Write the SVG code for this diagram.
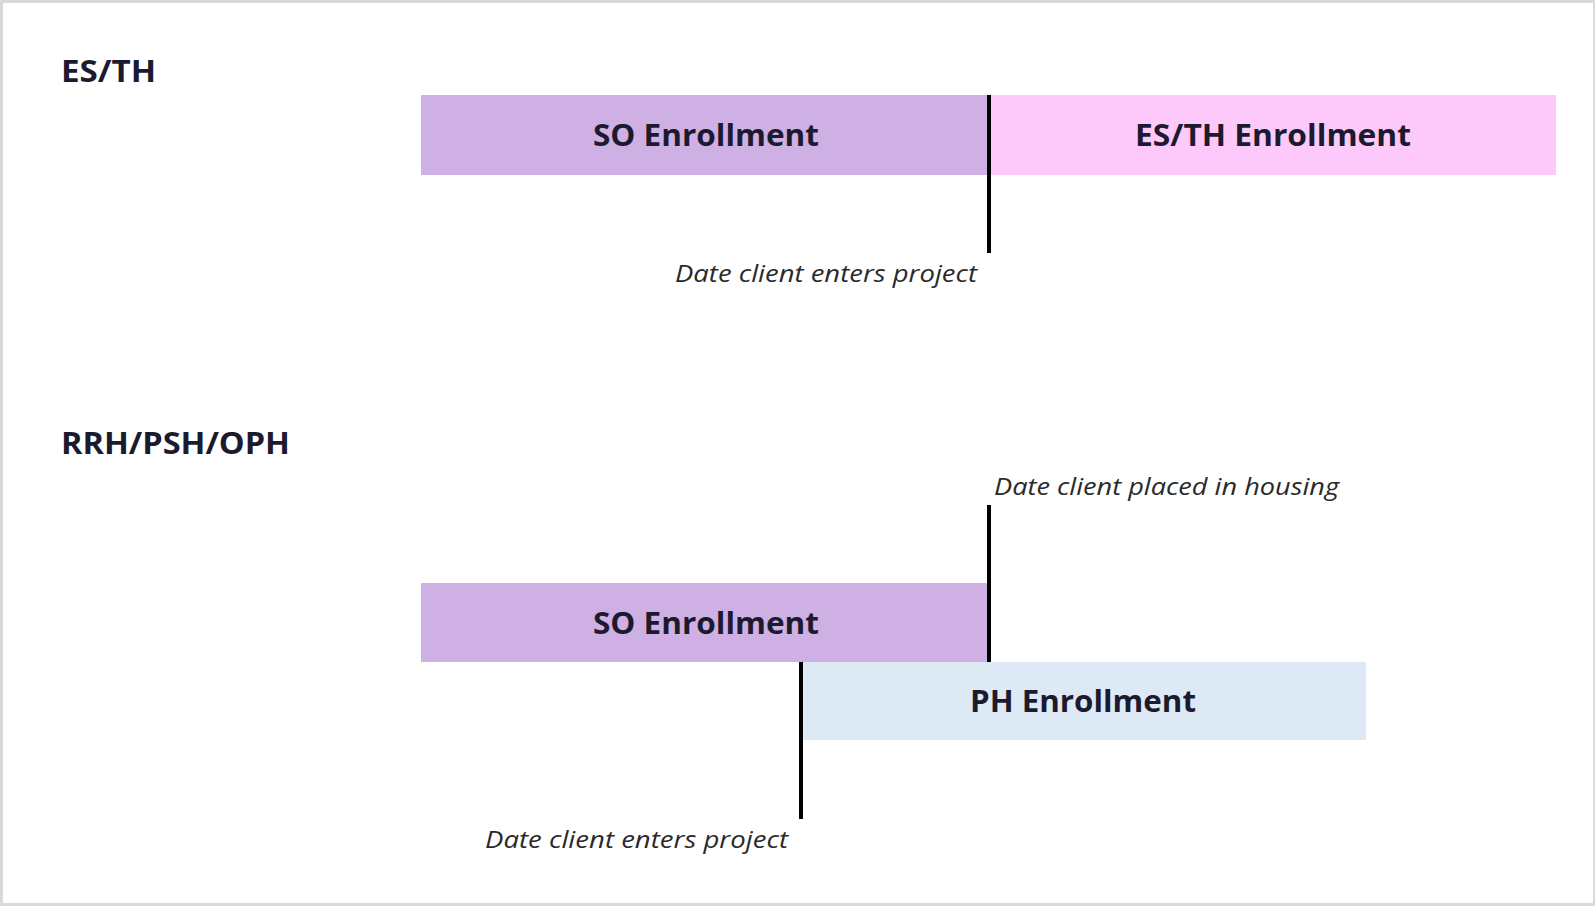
<svg xmlns="http://www.w3.org/2000/svg" width="1595" height="906" viewBox="0 0 1595 906">
<style>
.lbl{font-family:"Open Sans","Liberation Sans",sans-serif;font-weight:700;fill:#1c1a2e;font-size:30px}
.bar{font-family:"Open Sans","Liberation Sans",sans-serif;font-weight:700;fill:#1c1a2e;font-size:30px}
.note{font-family:"Open Sans","Liberation Sans",sans-serif;font-style:italic;fill:#2a2a2a;font-size:23px}
.tick{stroke:#000;stroke-width:4}
</style>
<rect x="0" y="0" width="1595" height="906" fill="#d9d9d9"/>
<rect x="3" y="3" width="1590" height="900" fill="#ffffff"/>
<g id="title-esth"><text class="lbl" x="61" y="82" textLength="95" lengthAdjust="spacingAndGlyphs">ES/TH</text></g>
<g id="title-rrh"><text class="lbl" x="61" y="454" textLength="229" lengthAdjust="spacingAndGlyphs">RRH/PSH/OPH</text></g>
<g id="so-enroll-1"><rect x="421" y="95" width="568" height="80" fill="#cfb0e4"/><text class="bar" x="593" y="146" textLength="226" lengthAdjust="spacingAndGlyphs">SO Enrollment</text></g>
<g id="esth-enroll"><rect x="989" y="95" width="567" height="80" fill="#fdc9fa"/><text class="bar" x="1135" y="146" textLength="276" lengthAdjust="spacingAndGlyphs">ES/TH Enrollment</text></g>
<g id="so-enroll-2"><rect x="421" y="583" width="568" height="79" fill="#cfb0e4"/><text class="bar" x="593" y="634" textLength="226" lengthAdjust="spacingAndGlyphs">SO Enrollment</text></g>
<g id="ph-enroll"><rect x="800" y="662" width="566" height="78" fill="#dde9f5"/><text class="bar" x="970" y="712" textLength="226" lengthAdjust="spacingAndGlyphs">PH Enrollment</text></g>
<g id="connectors">
<line class="tick" x1="989" y1="95" x2="989" y2="253"/>
<line class="tick" x1="989" y1="505" x2="989" y2="662"/>
<line class="tick" x1="801" y1="662" x2="801" y2="819"/>
</g>
<g id="notes">
<text class="note" x="675" y="282" textLength="302" lengthAdjust="spacingAndGlyphs">Date client enters project</text>
<text class="note" x="994" y="495" textLength="345" lengthAdjust="spacingAndGlyphs">Date client placed in housing</text>
<text class="note" x="485" y="848" textLength="303" lengthAdjust="spacingAndGlyphs">Date client enters project</text>
</g>
</svg>
